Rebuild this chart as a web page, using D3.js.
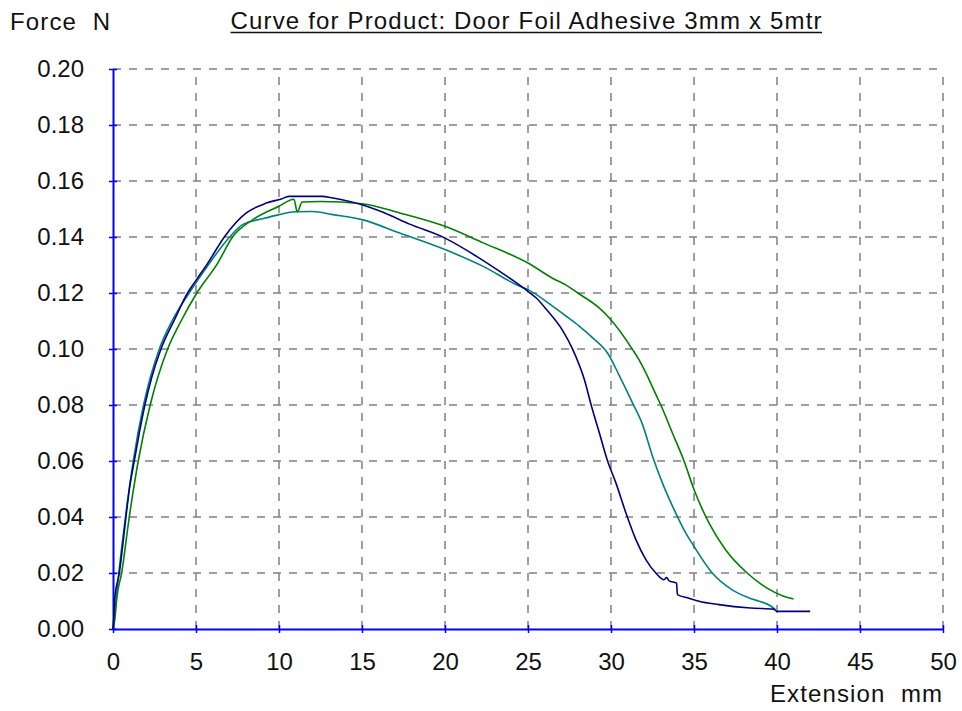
<!DOCTYPE html>
<html>
<head>
<meta charset="utf-8">
<script src="https://cdn.jsdelivr.net/npm/d3@7"></script>
<style>
    body { margin: 0; background: #ffffff; }
    text { font-family: "Liberation Sans", Arial, sans-serif; }
</style>
</head>
<body>
<script>
// Peel test curves.
// Extension in mm, force in N.
var xTicks = [0, 5, 10, 15, 20, 25, 30, 35, 40, 45, 50];
var yTicks = [0, 0.02, 0.04, 0.06, 0.08, 0.10, 0.12, 0.14, 0.16, 0.18, 0.20];

var navyX = [0, 0.05, 0.12, 0.38, 0.58, 0.78, 0.98, 1.28, 1.58, 1.92, 2.34,
    2.89, 3.69, 4.49, 5.0, 5.69, 6.73, 8.03, 9.24, 10.14, 10.6, 12.6, 13.25,
    15.0, 16.27, 17.87, 20.0, 21.9, 23.3, 25.0, 25.5, 26.1, 27.1, 27.7,
    28.4, 28.8, 29.3, 29.8, 30.3, 30.9, 31.5, 32.1, 32.7, 33.2, 33.35, 33.5,
    33.95, 34.0, 34.7, 35.3, 36.5, 38.4, 39.8, 40.0, 42.0];
var navyY = [0, 0.004, 0.0116, 0.02, 0.0295, 0.04, 0.0497, 0.06, 0.0699,
    0.08, 0.09, 0.10, 0.1103, 0.12, 0.1245, 0.1305, 0.1402, 0.1486, 0.1521,
    0.1536, 0.1545, 0.1545, 0.1539, 0.1515, 0.1488, 0.1446, 0.1396, 0.1331,
    0.1277, 0.1206, 0.1182, 0.1142, 0.1065, 0.0998, 0.089, 0.0801,
    0.07, 0.0599, 0.0521, 0.0414, 0.0319, 0.0248, 0.02, 0.0176, 0.0184,
    0.0172, 0.0164, 0.0123, 0.011, 0.0099, 0.0087, 0.0075, 0.0071, 0.0063,
    0.0063];

var tealX = [0, 0.1, 0.35, 0.75, 1.22, 1.84, 2.79, 3.55, 4.59, 5.5, 7.03,
    7.8, 9.0, 10.0, 11.0, 12.0, 13.25, 15.0, 17.27, 20.0, 22.3, 24.5, 25.0,
    26.5, 27.3, 28.1, 28.9, 29.8, 30.5, 31.3, 31.9, 32.5, 33.1, 33.9, 34.5,
    35.0, 36.1, 37.3, 38.6, 39.6, 39.9];
var tealY = [0, 0.005, 0.02, 0.04, 0.06, 0.08, 0.10, 0.11, 0.12, 0.128,
    0.14, 0.1444, 0.1465, 0.148, 0.149, 0.1491, 0.148, 0.1462, 0.1414,
    0.1355, 0.1295, 0.1224, 0.1212, 0.1152, 0.1117, 0.1081, 0.1040, 0.0985,
    0.0905, 0.0807, 0.0730, 0.0617, 0.0521, 0.0414, 0.0343, 0.0295, 0.02,
    0.014, 0.0105, 0.0083, 0.0069];

var greenX = [0, 0.1, 0.24, 0.52, 0.98, 1.52, 2.24, 3.29, 4.1, 5.05, 6.29,
    7.2, 8.5, 10.0, 10.9, 11.1, 11.4, 12.5, 15.0, 17.27, 20.0, 22.3, 25.0,
    26.5, 27.3, 28.0, 29.3, 29.9, 31.3, 31.7, 32.1, 32.7, 33.0, 33.7, 34.4,
    35.0, 35.9, 36.9, 38.2, 39.4, 40.4, 41.0];
var greenY = [0, 0.003, 0.0116, 0.02, 0.04, 0.06, 0.08, 0.10, 0.11, 0.12,
    0.1305, 0.14, 0.1465, 0.151, 0.1535, 0.149, 0.1525, 0.1527, 0.1519,
    0.1486, 0.1438, 0.1379, 0.1307, 0.1252, 0.1228, 0.1200, 0.1146, 0.1111,
    0.0998, 0.0960, 0.0915, 0.0838, 0.0800, 0.0700, 0.0600, 0.0498,
    0.0379, 0.0283, 0.02, 0.0146, 0.0117, 0.0107];

var width = 962,
    height = 711;

var svg = d3.select("body").append("svg")
    .attr("width", width)
    .attr("height", height);

var xScale = d3.scaleLinear().domain([0, 50]).range([113, 943]);
var yScale = d3.scaleLinear().domain([0, 0.2]).range([629, 69]);

// Grid: dashed grey, vertical lines run from the bottom up
svg.append("g")
    .selectAll("path")
    .data(yTicks.slice(1))
    .enter()
    .append("path")
    .attr("d", function(d) {
        return "M" + xScale(0) + "," + yScale(d) + "H" + xScale(50);
    })
    .attr("stroke", "#808080")
    .attr("stroke-width", 1.5)
    .attr("stroke-dasharray", "8,8")
    .attr("fill", "none");

svg.append("g")
    .selectAll("path")
    .data(xTicks.slice(1))
    .enter()
    .append("path")
    .attr("d", function(d) {
        return "M" + xScale(d) + "," + yScale(0) + "V" + yScale(0.2);
    })
    .attr("stroke", "#808080")
    .attr("stroke-width", 1.5)
    .attr("stroke-dasharray", "8,8")
    .attr("fill", "none");

// Axes
var yAxis = d3.axisLeft(yScale)
    .tickValues(yTicks)
    .tickFormat(d3.format(".2f"))
    .tickSize(4)
    .tickSizeOuter(0)
    .tickPadding(25);

var xAxis = d3.axisBottom(xScale)
    .tickValues(xTicks)
    .tickFormat(d3.format("d"))
    .tickSize(4)
    .tickSizeOuter(0)
    .tickPadding(20);

var gy = svg.append("g")
    .attr("transform", "translate(" + xScale(0) + ",0)")
    .style("color", "#0000ff")
    .call(yAxis);
gy.select(".domain").attr("stroke-width", 2);
gy.selectAll(".tick line").attr("x1", 4).attr("stroke-width", 1.5);

var gx = svg.append("g")
    .attr("transform", "translate(0," + yScale(0) + ")")
    .style("color", "#0000ff")
    .call(xAxis);
gx.select(".domain").attr("stroke-width", 2);
gx.selectAll(".tick line").attr("y1", -4).attr("stroke-width", 1.5);

svg.selectAll(".tick text")
    .attr("fill", "#111111")
    .attr("font-size", "24px")
    .attr("font-family", "'Liberation Sans', Arial, sans-serif");

// Curves
var series = [
    {xs: tealX, ys: tealY, color: "#008080"},
    {xs: greenX, ys: greenY, color: "#008000"},
    {xs: navyX, ys: navyY, color: "#000080"}
];

var line = d3.line()
    .curve(d3.curveMonotoneX)
    .x(function(d) { return xScale(d[0]); })
    .y(function(d) { return yScale(d[1]); });

series.forEach(function(s) {
    var pts = s.xs.map(function(x, i) { return [x, s.ys[i]]; });
    svg.append("path")
        .datum(pts)
        .attr("d", line)
        .attr("fill", "none")
        .attr("stroke", s.color)
        .attr("stroke-width", 1.6)
        .attr("stroke-linejoin", "round");
});

// Titles
svg.append("text")
    .attr("x", 10)
    .attr("y", 30)
    .attr("font-size", "24px")
    .attr("fill", "#111111")
    .attr("textLength", 100)
    .attr("lengthAdjust", "spacing")
    .style("white-space", "pre")
    .text("Force  N");

svg.append("text")
    .attr("x", 230.5)
    .attr("y", 28.5)
    .attr("font-size", "24px")
    .attr("fill", "#111111")
    .attr("textLength", 591)
    .attr("lengthAdjust", "spacing")
    .text("Curve for Product: Door Foil Adhesive 3mm x 5mtr");

svg.append("line")
    .attr("x1", 230.5)
    .attr("x2", 822)
    .attr("y1", 32.5)
    .attr("y2", 32.5)
    .attr("stroke", "#111111")
    .attr("stroke-width", 1.5);

svg.append("text")
    .attr("x", 770)
    .attr("y", 701.5)
    .attr("font-size", "24px")
    .attr("fill", "#111111")
    .attr("textLength", 172)
    .attr("lengthAdjust", "spacing")
    .style("white-space", "pre")
    .text("Extension  mm");
</script>
</body>
</html>
